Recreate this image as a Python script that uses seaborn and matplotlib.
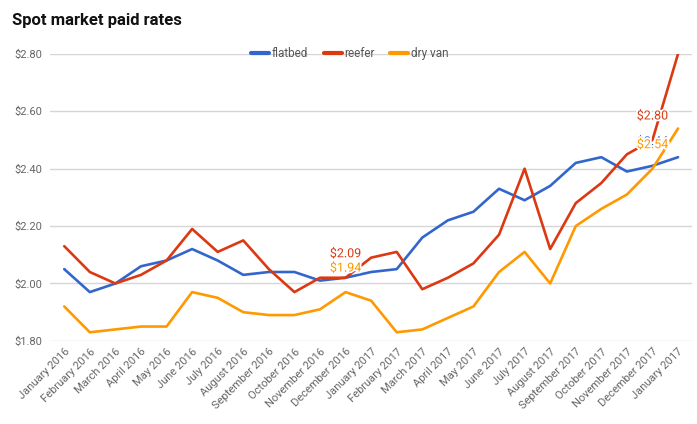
import matplotlib
matplotlib.use('Agg')
import matplotlib.pyplot as plt
import matplotlib.patheffects as pe
import pandas as pd
import seaborn as sns
from matplotlib.ticker import FuncFormatter


# dados
meses = ['January 2016', 'February 2016', 'March 2016', 'April 2016', 'May 2016', 'June 2016',
         'July 2016', 'August 2016', 'September 2016', 'October 2016', 'November 2016',
         'December 2016', 'January 2017', 'February 2017', 'March 2017', 'April 2017',
         'May 2017', 'June 2017', 'July 2017', 'August 2017', 'September 2017',
         'October 2017', 'November 2017', 'December 2017', 'January 2017']

flatbed = [2.05, 1.97, 2.00, 2.06, 2.08, 2.12, 2.08, 2.03, 2.04, 2.04, 2.01, 2.02, 2.04,
           2.05, 2.16, 2.22, 2.25, 2.33, 2.29, 2.34, 2.42, 2.44, 2.39, 2.41, 2.44]
reefer = [2.13, 2.04, 2.00, 2.03, 2.08, 2.19, 2.11, 2.15, 2.05, 1.97, 2.02, 2.02, 2.09,
          2.11, 1.98, 2.02, 2.07, 2.17, 2.40, 2.12, 2.28, 2.35, 2.45, 2.50, 2.80]
dry_van = [1.92, 1.83, 1.84, 1.85, 1.85, 1.97, 1.95, 1.90, 1.89, 1.89, 1.91, 1.97, 1.94,
           1.83, 1.84, 1.88, 1.92, 2.04, 2.11, 2.00, 2.20, 2.26, 2.31, 2.40, 2.54]

series = ['flatbed', 'reefer', 'dry van']
cores = ['#3366CC', '#DC3912', '#FF9900']

# rotulos de dados (serie, posicao, texto)
rotulos_serie = ['reefer', 'dry van', 'flatbed', 'reefer', 'dry van']
rotulos_pos = [11, 11, 23, 23, 23]
rotulos_txt = ['$2.09', '$1.94', '$2.44', '$2.80', '$2.54']

####################################################################################

sns.set_style('white')
plt.rcParams['font.family'] = ['Roboto', 'DejaVu Sans']

df = pd.DataFrame({
    'pos': list(range(len(meses))) * 3,
    'valor': flatbed + reefer + dry_van,
    'serie': [s for s in series for _ in meses],
})

fig = plt.figure(figsize=(6.97, 4.24), dpi=100)
ax = fig.add_axes([0.072, 0.196, 0.921, 0.677])

sns.lineplot(data=df, x='pos', y='valor', hue='serie', hue_order=series,
             palette=cores, linewidth=1.9, ax=ax, legend=False)

ax.set_ylim(1.80, 2.80)
ax.set_xlim(-0.55, len(meses) - 0.45)
ax.set_yticks([1.80, 2.00, 2.20, 2.40, 2.60, 2.80])
ax.yaxis.set_major_formatter(FuncFormatter(lambda v, p: f'${v:.2f}'))
ax.set_xticks(range(len(meses)))
ax.set_xticklabels(meses, rotation=45, ha='right', rotation_mode='anchor')
ax.tick_params(axis='both', length=0, labelsize=8, labelcolor='#666666')
ax.tick_params(axis='x', pad=4)
ax.tick_params(axis='y', pad=6)
ax.grid(axis='y', color='#d6d6d6', linewidth=1)
ax.set_axisbelow(True)
for sp in ax.spines.values():
    sp.set_visible(False)
ax.set_xlabel('')
ax.set_ylabel('')

# rotulos de dados acima dos pontos (com contorno branco)
valores = dict(zip(series, [flatbed, reefer, dry_van]))
cor_serie = dict(zip(series, cores))
for s, i, t in zip(rotulos_serie, rotulos_pos, rotulos_txt):
    ax.annotate(t, xy=(i, valores[s][i]), xytext=(0, 24), textcoords='offset pixels',
                ha='center', va='center', fontsize=9, color=cor_serie[s],
                path_effects=[pe.withStroke(linewidth=2.5, foreground='white')])

# legenda
handles = [plt.Line2D([], [], color=c, linewidth=3) for c in cores]
leg = ax.legend(handles, series, loc='center', bbox_to_anchor=(0.467, 1.0), ncol=3,
                frameon=False, fontsize=8.5, handlelength=1.5, handletextpad=0.25,
                columnspacing=1.3)
for txt in leg.get_texts():
    txt.set_color('#555555')

fig.text(0.017, 0.952, 'Spot market paid rates', fontsize=12, fontweight='bold',
         color='#111111', va='center')

fig.savefig('out.png', dpi=100, facecolor='white')
